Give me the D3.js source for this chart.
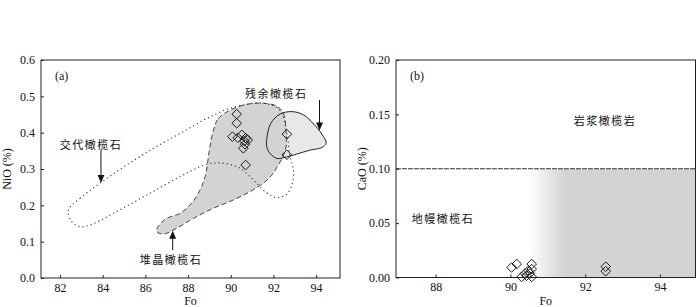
<!DOCTYPE html>
<meta charset="utf-8">
<head>
<style>
  body { margin: 0; background: #fff; }
  text { font-family: "Liberation Serif", "Times New Roman", serif; fill: #111; }
  .cn { font-family: "Noto Sans CJK SC", sans-serif; font-size: 11px; letter-spacing: 1.5px; }
  .tick text { font-size: 12px; }
</style>
</head>
<body>
<script src="https://d3js.org/d3.v7.min.js"></script>
<svg id="chart" width="700" height="307"></svg>
<script>
// panel (a): Fo vs NiO
const foA  = [90.28, 90.28, 90.08, 90.33, 90.52, 90.70, 90.64, 90.80, 90.67, 90.59, 90.70, 92.63, 92.63];
const niOA = [0.451, 0.426, 0.389, 0.386, 0.394, 0.385, 0.377, 0.380, 0.368, 0.357, 0.311, 0.396, 0.339];

// panel (b): Fo vs CaO
const foB  = [90.03, 90.17, 90.30, 90.39, 90.48, 90.57, 90.57, 90.52, 90.57, 90.43, 92.55, 92.55];
const caOB = [0.0092, 0.0124, 0.0005, 0.0037, 0.0062, 0.0124, 0.0078, 0.0037, 0.0005, 0.0016, 0.0100, 0.0058];

// field outlines in panel (a)
const cumulateFo = [89.19, 89.42, 89.97, 90.75, 91.53, 92.16, 92.47, 92.59, 92.59, 92.44, 92.23, 91.92, 91.53, 90.91, 90.13, 89.19, 88.25, 87.47, 86.84, 86.53, 86.61, 87.00, 87.63, 88.09, 88.48, 88.80, 89.00];
const cumulateNi = [0.407, 0.439, 0.462, 0.478, 0.481, 0.473, 0.453, 0.407, 0.361, 0.334, 0.311, 0.283, 0.261, 0.238, 0.215, 0.192, 0.164, 0.137, 0.121, 0.128, 0.143, 0.164, 0.178, 0.201, 0.233, 0.279, 0.352];
const residualFo = [91.69, 91.88, 92.31, 92.86, 93.41, 93.88, 94.27, 94.47, 94.27, 93.72, 93.09, 92.55, 92.16, 91.84, 91.69];
const residualNi = [0.384, 0.426, 0.451, 0.458, 0.449, 0.424, 0.396, 0.371, 0.359, 0.352, 0.341, 0.332, 0.329, 0.343, 0.361];
const metasomFo = [82.39, 82.94, 83.88, 85.13, 86.38, 87.63, 88.88, 89.81, 90.75, 91.53, 92.31, 92.63, 92.78, 92.94, 92.89, 92.63, 92.16, 91.61, 91.06, 90.44, 89.66, 88.88, 87.63, 86.06, 84.50, 83.41, 82.94, 82.55];
const metasomNi = [0.187, 0.219, 0.261, 0.311, 0.357, 0.398, 0.439, 0.464, 0.478, 0.481, 0.462, 0.398, 0.334, 0.297, 0.261, 0.231, 0.221, 0.238, 0.270, 0.302, 0.316, 0.313, 0.279, 0.228, 0.178, 0.146, 0.141, 0.155];

const ticksA = [82, 84, 86, 88, 90, 92, 94];
const ticksB = [88, 90, 92, 94];

const svg = d3.select("#chart");
const ink = "#222";

function frame(g, x, y, xt, yt, yfmt, ylabel, tag) {
  const [x0, x1] = x.range(), [y0, y1] = y.range();
  g.append("g").attr("transform", `translate(0,${y0})`)
    .call(d3.axisBottom(x).tickValues(xt).tickSizeInner(-3).tickSizeOuter(0).tickPadding(5).tickFormat(d3.format("d")))
    .call(a => a.select(".domain").remove());
  g.append("g").attr("transform", `translate(${x0},0)`)
    .call(d3.axisLeft(y).tickValues(yt).tickSizeInner(-3).tickSizeOuter(0).tickPadding(6).tickFormat(d3.format(yfmt)))
    .call(a => a.select(".domain").remove());
  g.selectAll(".tick line").attr("stroke", ink);
  g.append("rect").attr("x", x0).attr("y", y1).attr("width", x1 - x0).attr("height", y0 - y1)
    .attr("fill", "none").attr("stroke", ink).attr("stroke-width", 1);
  g.append("text").attr("x", (x0 + x1) / 2).attr("y", 304.5).attr("text-anchor", "middle")
    .style("font-size", "12px").text("Fo");
  g.append("text").attr("transform", `translate(${x0 - 34},${(y0 + y1) / 2}) rotate(-90)`)
    .attr("text-anchor", "middle").attr("dy", "0.35em").style("font-size", "12px").text(ylabel);
  g.append("text").attr("x", x0 + 14).attr("y", 76).attr("dy", "0.35em").style("font-size", "12px").text(tag);
}

const diamond = d3.symbol(d3.symbolSquare, 46);

// arrow head marker
svg.append("defs").append("marker")
  .attr("id", "head").attr("viewBox", "0 0 8 8").attr("refX", 7).attr("refY", 4)
  .attr("markerWidth", 8).attr("markerHeight", 8).attr("markerUnits", "userSpaceOnUse")
  .attr("orient", "auto")
  .append("path").attr("d", "M0,0.5 L8,4 L0,7.5 z").attr("fill", "#111");

// ---------- panel (a)
const xA = d3.scaleLinear().domain([81.11, 95.12]).range([41, 340]);
const yA = d3.scaleLinear().domain([0, 0.6]).range([278, 60]);
const gA = svg.append("g");

const lineA = d3.line().x(d => xA(d[0])).y(d => yA(d[1])).curve(d3.curveCatmullRomClosed.alpha(0.5));
const cumulate = d3.zip(cumulateFo, cumulateNi);
const residual = d3.zip(residualFo, residualNi);
const metasom = d3.zip(metasomFo, metasomNi);

gA.append("path").attr("d", lineA(residual)).attr("fill", "#e8e8e8");
gA.append("path").attr("d", lineA(cumulate)).attr("fill", "#d3d3d3");
gA.append("path").attr("d", lineA(cumulate)).attr("fill", "none")
  .attr("stroke", "#444").attr("stroke-width", 1).attr("stroke-dasharray", "5,3");
gA.append("path").attr("d", lineA(metasom)).attr("fill", "none")
  .attr("stroke", "#333").attr("stroke-width", 1.1).attr("stroke-dasharray", "1.2,3");
gA.append("path").attr("d", lineA(residual)).attr("fill", "none")
  .attr("stroke", "#222").attr("stroke-width", 1);

gA.selectAll(".pt").data(d3.zip(foA, niOA)).join("path")
  .attr("d", diamond)
  .attr("transform", d => `translate(${xA(d[0])},${yA(d[1])}) rotate(45)`)
  .attr("fill", "none").attr("stroke", "#111").attr("stroke-width", 0.9);

frame(gA, xA, yA, ticksA, [0, 0.1, 0.2, 0.3, 0.4, 0.5, 0.6], ".1f", "NiO (%)", "(a)");

// annotations (a)
const notesA = [
  { t: "交代橄榄石", tx: 83.45, ty: 0.366, ax: 83.92, a0: 0.352, a1: 0.265 },
  { t: "残余橄榄石", tx: 92.13, ty: 0.506, ax: 94.16, a0: 0.490, a1: 0.409 },
  { t: "堆晶橄榄石", tx: 87.20, ty: 0.050, ax: 87.28, a0: 0.077, a1: 0.127 }
];
notesA.forEach(n => {
  gA.append("text").attr("class", "cn").attr("x", xA(n.tx)).attr("y", yA(n.ty))
    .attr("text-anchor", "middle").attr("dy", "0.35em").text(n.t);
  gA.append("line").attr("x1", xA(n.ax)).attr("x2", xA(n.ax)).attr("y1", yA(n.a0)).attr("y2", yA(n.a1))
    .attr("stroke", "#111").attr("stroke-width", 1).attr("marker-end", "url(#head)");
});

// ---------- panel (b)
const xB = d3.scaleLinear().domain([86.94, 94.95]).range([396, 695.5]);
const yB = d3.scaleLinear().domain([0, 0.2]).range([277.5, 60]);
const gB = svg.append("g");

const grad = svg.select("defs").append("linearGradient").attr("id", "fade")
  .attr("gradientUnits", "userSpaceOnUse")
  .attr("x1", xB(90.5)).attr("x2", xB(91.45)).attr("y1", 0).attr("y2", 0);
grad.append("stop").attr("offset", 0).attr("stop-color", "#ffffff");
grad.append("stop").attr("offset", 1).attr("stop-color", "#d3d3d3");

gB.append("rect").attr("x", xB(90.5)).attr("y", yB(0.1))
  .attr("width", xB.range()[1] - xB(90.5)).attr("height", yB(0) - yB(0.1)).attr("fill", "url(#fade)");
gB.append("line").attr("x1", xB.range()[0]).attr("x2", xB.range()[1]).attr("y1", yB(0.1)).attr("y2", yB(0.1))
  .attr("stroke", "#333").attr("stroke-width", 1.2).attr("stroke-dasharray", "5,1");

gB.selectAll(".pt").data(d3.zip(foB, caOB)).join("path")
  .attr("d", diamond)
  .attr("transform", d => `translate(${xB(d[0])},${yB(d[1])}) rotate(45)`)
  .attr("fill", "none").attr("stroke", "#111").attr("stroke-width", 0.9);

frame(gB, xB, yB, ticksB, [0, 0.05, 0.1, 0.15, 0.2], ".2f", "CaO (%)", "(b)");

gB.append("text").attr("class", "cn").attr("x", xB(92.53)).attr("y", yB(0.1442))
  .attr("text-anchor", "middle").attr("dy", "0.35em").text("岩浆橄榄岩");
gB.append("text").attr("class", "cn").attr("x", xB(87.36)).attr("y", yB(0.054))
  .attr("dy", "0.35em").text("地幔橄榄石");
</script>
</body>
